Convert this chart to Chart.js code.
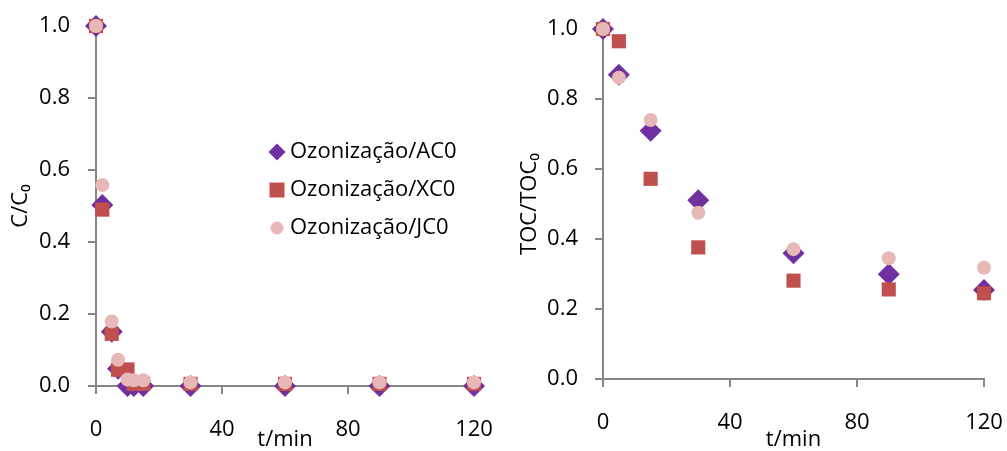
<!DOCTYPE html>
<html>
<head>
<meta charset="utf-8">
<script src="https://cdn.jsdelivr.net/npm/chart.js@4.4.1/dist/chart.umd.min.js"></script>
<style>
  html, body { margin: 0; padding: 0; background: #fff; }
  #wrap { position: relative; width: 1007px; height: 451px; overflow: hidden; }
  #left { position: absolute; left: 0; top: 0; }
  #right { position: absolute; left: 500px; top: 0; }
</style>
</head>
<body>
<div id="wrap">
  <canvas id="left" width="500" height="451"></canvas>
  <canvas id="right" width="507" height="451"></canvas>
</div>
<script>
// left panel: C/C0 vs time
const timeLeft = [0, 2, 5, 7, 10, 12, 15, 30, 60, 90, 120];
const cAC0 = [1.0, 0.503, 0.151, 0.048, 0.0, 0.0, 0.0, 0.0, 0.0, 0.0, 0.0];
const cXC0 = [1.0, 0.49, 0.145, 0.045, 0.046, 0.006, 0.006, 0.006, 0.006, 0.006, 0.006];
const cJC0 = [1.0, 0.558, 0.179, 0.073, 0.018, 0.016, 0.016, 0.01, 0.01, 0.01, 0.01];

// right panel: TOC/TOC0 vs time
const timeRight = [0, 5, 15, 30, 60, 90, 120];
const tocAC0 = [1.0, 0.869, 0.709, 0.511, 0.359, 0.299, 0.254];
const tocXC0 = [1.0, 0.965, 0.572, 0.376, 0.281, 0.256, 0.245];
const tocJC0 = [1.0, 0.861, 0.74, 0.475, 0.371, 0.345, 0.318];

const seriesNames = ["Ozonização/AC0", "Ozonização/XC0", "Ozonização/JC0"];
const xTicks = [0, 40, 80, 120];
const yTicks = [0, 0.2, 0.4, 0.6, 0.8, 1.0];

const PURPLE = "#7030A0";
const RED = "#C0504D";
const PINK = "#E6B9B8";
const AXIS = "#868686";
const FONT = "'Open Sans', 'Liberation Sans', sans-serif";

function pts(xs, ys) {
    return xs.map((x, i) => ({ x, y: ys[i] }));
}

function makeDatasets(xs, a, b, c) {
    return [
        { label: seriesNames[0], data: pts(xs, a), pointStyle: "rectRot", pointRadius: 11,
          backgroundColor: PURPLE, borderColor: PURPLE, borderWidth: 0, order: 3, clip: false },
        { label: seriesNames[1], data: pts(xs, b), pointStyle: "rect", pointRadius: 10,
          backgroundColor: RED, borderColor: RED, borderWidth: 0, order: 2, clip: false },
        { label: seriesNames[2], data: pts(xs, c), pointStyle: "circle", pointRadius: 7,
          backgroundColor: PINK, borderColor: PINK, borderWidth: 0, order: 1, clip: false },
    ];
}

// legend drawn inside the left panel
const legendPlugin = {
    id: "insideLegend",
    afterDraw(chart, args, opts) {
        if (!opts.show) return;
        const ctx = chart.ctx;
        const x = 277, rows = [152, 190, 228];
        ctx.save();
        rows.forEach((y, i) => {
            ctx.beginPath();
            if (i === 0) {
                ctx.fillStyle = PURPLE;
                ctx.moveTo(x - 8.5, y); ctx.lineTo(x, y - 8.5);
                ctx.lineTo(x + 8.5, y); ctx.lineTo(x, y + 8.5);
            } else if (i === 1) {
                ctx.fillStyle = RED;
                ctx.rect(x - 7.5, y - 7.5, 15, 15);
            } else {
                ctx.fillStyle = PINK;
                ctx.arc(x, y, 6.5, 0, Math.PI * 2);
            }
            ctx.closePath();
            ctx.fill();
            ctx.fillStyle = "#000";
            ctx.font = "22px " + FONT;
            ctx.textBaseline = "middle";
            ctx.textAlign = "left";
            ctx.fillText(seriesNames[i], 290, y);
        });
        ctx.restore();
    },
};

// keep the plot area where the layout padding puts it
function noScalePadding(s) {
    s.paddingLeft = 0;
    s.paddingRight = 0;
    s.paddingTop = 0;
    s.paddingBottom = 0;
}

function makeChart(el, datasets, cfg) {
    return new Chart(el, {
        type: "scatter",
        data: { datasets },
        plugins: [legendPlugin],
        options: {
            responsive: false,
            animation: false,
            devicePixelRatio: 1,
            layout: { padding: { top: cfg.top, right: cfg.right, left: 0, bottom: 0 } },
            plugins: {
                legend: { display: false },
                tooltip: { enabled: false },
                insideLegend: { show: cfg.legend },
            },
            scales: {
                x: {
                    type: "linear",
                    min: 0,
                    max: 120,
                    afterBuildTicks: (s) => { s.ticks = xTicks.map((v) => ({ value: v })); },
                    afterFit: (s) => { s.height = cfg.xHeight; noScalePadding(s); },
                    grid: { drawOnChartArea: false, drawTicks: true, tickLength: 8, color: AXIS, lineWidth: 2 },
                    border: { color: AXIS, width: 2 },
                    ticks: { color: "#000", padding: 23, font: { family: FONT, size: 22 } },
                    title: {
                        display: true,
                        text: "t/min",
                        color: "#000",
                        padding: 0,
                        font: { family: FONT, size: 22, lineHeight: 1 },
                    },
                },
                y: {
                    type: "linear",
                    min: 0,
                    max: 1,
                    afterBuildTicks: (s) => { s.ticks = yTicks.map((v) => ({ value: v })); },
                    afterFit: (s) => { s.width = cfg.yWidth; noScalePadding(s); },
                    grid: { drawOnChartArea: false, drawTicks: true, tickLength: 8, color: AXIS, lineWidth: 2 },
                    border: { color: AXIS, width: 2 },
                    ticks: {
                        color: "#000",
                        padding: cfg.yPad,
                        font: { family: FONT, size: 22 },
                        callback: (v) => v.toFixed(1),
                    },
                    title: {
                        display: true,
                        text: cfg.yTitle,
                        color: "#000",
                        padding: { top: cfg.yTitlePad, bottom: 0 },
                        font: { family: FONT, size: 22, lineHeight: 1 },
                    },
                },
            },
        },
    });
}

makeChart(document.getElementById("left"), makeDatasets(timeLeft, cAC0, cXC0, cJC0), {
    top: 26, right: 26, xHeight: 65, yWidth: 96, yPad: 18, yTitle: "C/C₀", yTitlePad: 10, legend: true,
});
makeChart(document.getElementById("right"), makeDatasets(timeRight, tocAC0, tocXC0, tocJC0), {
    top: 29, right: 23, xHeight: 72, yWidth: 103, yPad: 17, yTitle: "TOC/TOC₀", yTitlePad: 19, legend: false,
});
</script>
</body>
</html>
